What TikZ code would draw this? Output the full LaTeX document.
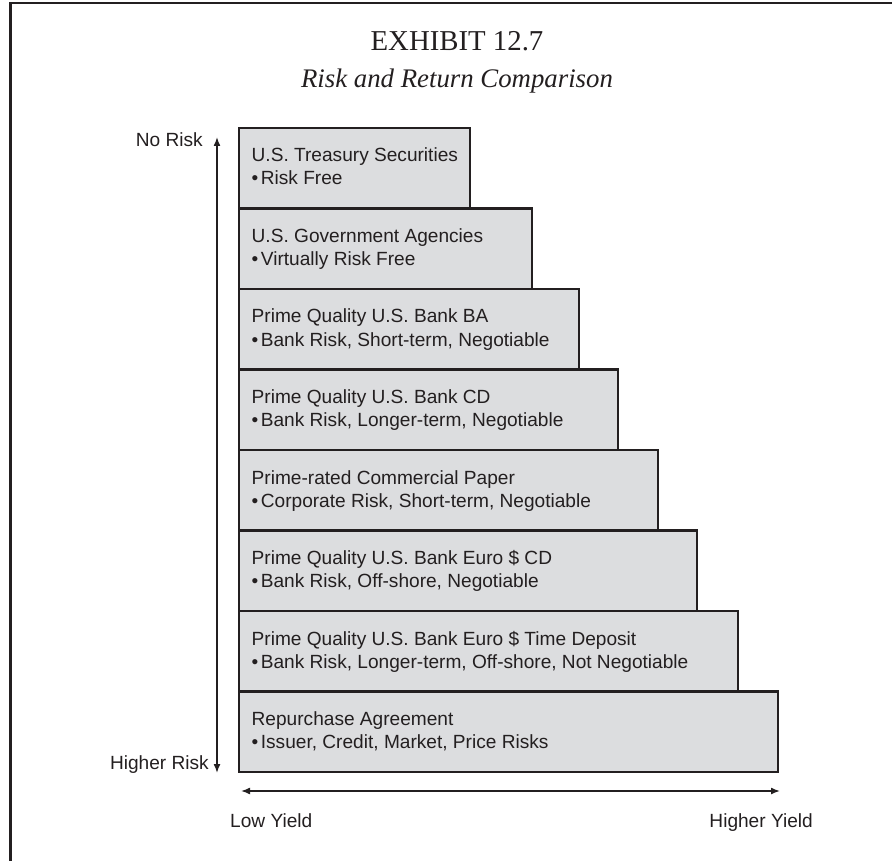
\documentclass[tikz,border=0pt]{standalone}
\usepackage{fontspec}
\setmainfont{Liberation Sans}
\newfontfamily\titlefont{Liberation Serif}
\usetikzlibrary{arrows.meta}

\definecolor{ink}{HTML}{231F20}
\definecolor{tierfill}{HTML}{DCDDDF}

\tikzset{
  tierbox/.style={draw=ink, fill=tierfill, line width=2.6pt, inner sep=0pt,
                  outer sep=0pt, anchor=north west, minimum height=80.5pt},
  tiertext/.style={text=ink, inner sep=0pt, anchor=base west,
                   font=\fontsize{19.1}{22}\selectfont},
  axislabel/.style={text=ink, inner sep=0pt,
                    font=\fontsize{19.1}{22}\selectfont},
  axisarrow/.style={draw=ink, line width=1.5pt,
                    {Latex[length=9pt,width=7pt]}-{Latex[length=9pt,width=7pt]}},
}

% one step of the staircase: index, top edge, right edge, heading, bullet line
\newcommand\tier[5]{%
  \node[tierbox, minimum width={(#3-239)*1pt}] (b#1) at (239,#2) {};
  \node[tiertext] (b#1h) at (251.5,#2+34) {#4};
  \node[tiertext] (b#1d) at (251.5,#2+57) {\textbullet\hspace{2.5pt}#5};
}

\begin{document}
\begin{tikzpicture}[x=1pt,y=-1pt]
\useasboundingbox (0,0) rectangle (892,861);

% frame lines
\coordinate (fbl) at (10.5,861);
\coordinate (ftl) at (10.5,3);
\coordinate (ftr) at (892,3);
\draw[ink, line width=3pt] (fbl) -- (ftl);
\draw[ink, line width=2pt] ([xshift=-1.5pt]ftl) -- (ftr);

% heading
\node[text=ink, inner sep=0pt, anchor=base,
      font=\titlefont\fontsize{28.8}{30}\selectfont] (title) at (457,51) {EXHIBIT 12.7};
\node[text=ink, inner sep=0pt, anchor=base,
      font=\titlefont\itshape\fontsize{26.8}{28}\selectfont] (subtitle) at (457,88)
      {Risk and Return Comparison};

% staircase of instruments
\tier{1}{128}{470}{U.S. Treasury Securities}{Risk Free}
\tier{2}{208.5}{532}{U.S. Government Agencies}{Virtually Risk Free}
\tier{3}{289}{579}{Prime Quality U.S. Bank BA}{Bank Risk, Short-term, Negotiable}
\tier{4}{369.5}{618}{Prime Quality U.S. Bank CD}{Bank Risk, Longer-term, Negotiable}
\tier{5}{450}{658}{Prime-rated Commercial Paper}{Corporate Risk, Short-term, Negotiable}
\tier{6}{530.5}{697}{Prime Quality U.S. Bank Euro \$ CD}{Bank Risk, Off-shore, Negotiable}
\tier{7}{611}{738}{Prime Quality U.S. Bank Euro \$ Time Deposit}{Bank Risk, Longer-term, Off-shore, Not Negotiable}
\tier{8}{691.5}{778}{Repurchase Agreement}{Issuer, Credit, Market, Price Risks}

% risk axis
\coordinate (vtop) at (217,137);
\coordinate (vbot) at (217,773);
\draw[axisarrow] (vtop) -- (vbot);
\node[axislabel, anchor=base east] (norisk) at (203,147) {No Risk};
\node[axislabel, anchor=base east] (hirisk) at (209,769) {Higher Risk};

% yield axis
\coordinate (hl) at (241,791);
\coordinate (hr) at (780,791);
\draw[axisarrow] (hl) -- (hr);
\node[axislabel, anchor=base west] (lowy) at (230,827) {Low Yield};
\node[axislabel, anchor=base east] (hiy) at (813,827) {Higher Yield};
\end{tikzpicture}
\end{document}
